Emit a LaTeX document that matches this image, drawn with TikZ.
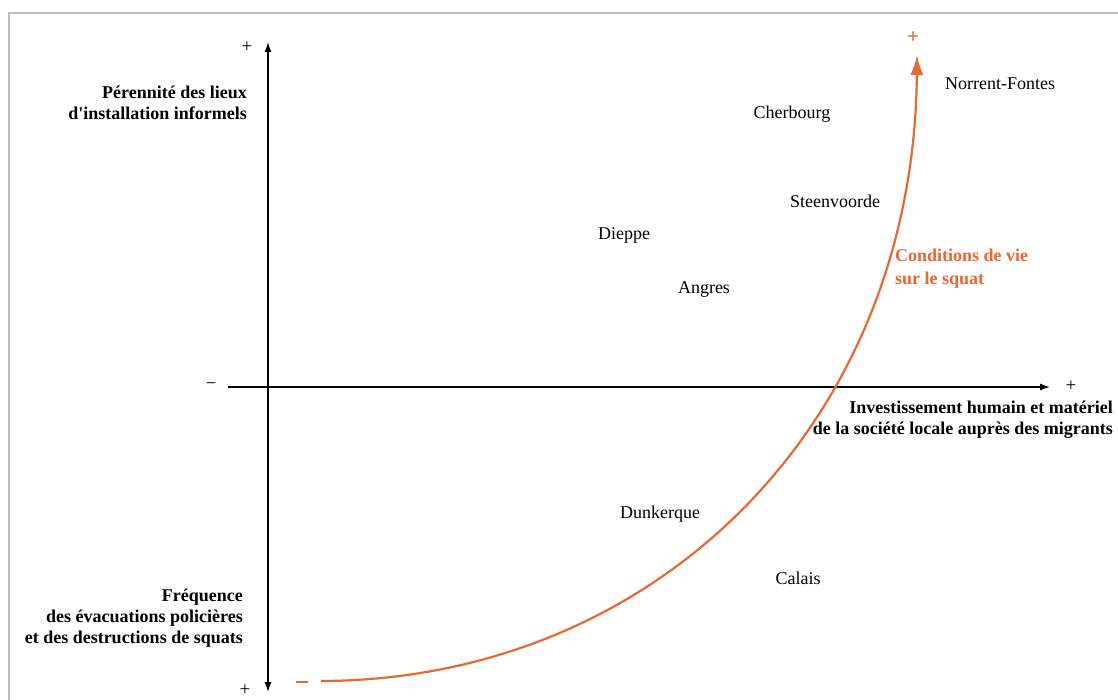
\documentclass[tikz,border=0pt]{standalone}
\usepackage{fontspec}
\setmainfont{Liberation Serif}
\usetikzlibrary{arrows.meta}
\definecolor{orng}{RGB}{232,104,52}
\definecolor{frm}{RGB}{190,190,190}
\begin{document}
\begin{tikzpicture}[x=1pt,y=-1pt,
  axis/.style={line width=1.3pt, -{Latex[length=10pt,width=7pt]}},
  sign/.style={font=\fontsize{19}{20}\selectfont, inner sep=0pt},
  axlabel/.style={font=\fontsize{18}{21}\selectfont\bfseries, align=right, inner sep=0pt},
  city/.style={font=\fontsize{18}{20}\selectfont, inner sep=0pt},
  curve/.style={orng, line width=2.2pt, -{Latex[length=20pt,width=13pt]}},
  olabel/.style={orng, font=\fontsize{18}{23}\selectfont\bfseries, align=left, inner sep=0pt}]
\useasboundingbox (0,0) rectangle (1118,700);
\fill[white] (0,0) rectangle (1118,700);
\draw[frm, line width=2pt] (9,13) rectangle (1140,720);
% axes
\coordinate (vbot) at (268,692);
\coordinate (vtop) at (268,42);
\coordinate (hleft) at (228,387);
\coordinate (hright) at (1050,387);
\draw[axis] (268,387) -- (vtop);
\draw[axis] (268,387) -- (vbot);
\draw[line width=1.3pt] (hleft) -- (268,387);
\draw[axis] (268,387) -- (hright);
% signs
\node[sign] (ptop) at (247,47) {+};
\node[sign] (pbot) at (245,690) {+};
\node[sign] (mleft) at (211,386) {\textminus};
\node[sign] (pright) at (1071,386) {+};
% axis labels
\node[axlabel, anchor=north east] (ltop) at (247,86) {Pérennité des lieux\\d\textquotesingle installation informels};
\node[axlabel, anchor=north east] (lbot) at (243,589) {Fréquence\\des évacuations policières\\et des destructions de squats};
\node[axlabel, anchor=north east] (lright) at (1113,401) {Investissement humain et matériel\\de la société locale auprès des migrants};
% curve
\coordinate (cstart) at (321,681);
\coordinate (cend) at (917,55);
\draw[orng, line width=2.2pt] (296,682) -- (308,682);
\draw[curve] (cstart) .. controls (655,680) and (914,425) .. (cend);
\node[orng, font=\fontsize{21}{21}\selectfont\bfseries, inner sep=0pt] (oplus) at (913,38) {+};
\node[olabel, anchor=north west] (cond) at (895,249) {Conditions de vie\\sur le squat};
% cities
\node[city] (nf) at (1000,84) {Norrent-Fontes};
\node[city] (cher) at (792,114) {Cherbourg};
\node[city] (steen) at (835,201) {Steenvoorde};
\node[city] (diep) at (624,235) {Dieppe};
\node[city] (angr) at (704,290) {Angres};
\node[city] (dunk) at (660,514) {Dunkerque};
\node[city] (cal) at (798,578) {Calais};
\end{tikzpicture}
\end{document}
